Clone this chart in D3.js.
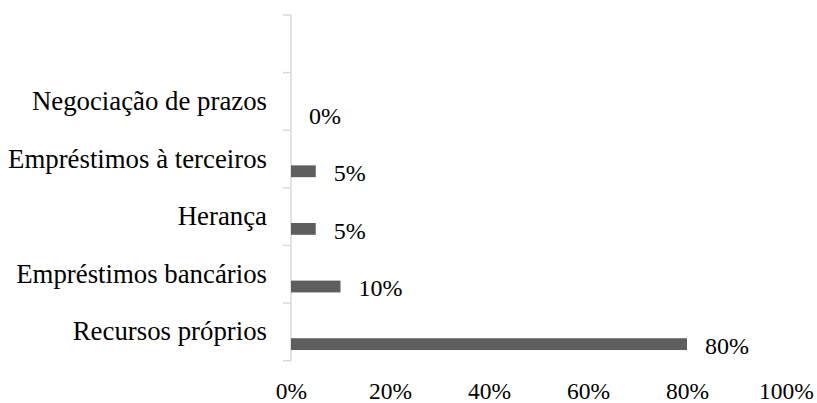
<!DOCTYPE html>
<html>
<head>
<meta charset="utf-8">
<script src="https://cdn.jsdelivr.net/npm/d3@7"></script>
<style>
  html, body { margin: 0; padding: 0; background: #ffffff; }
  svg { display: block; }
</style>
</head>
<body>
<svg id="chart" width="817" height="403"></svg>
<script>
// Data (top to bottom; first slot is an empty category)
const categories = ["", "Negociação de prazos", "Empréstimos à terceiros", "Herança", "Empréstimos bancários", "Recursos próprios"];
const values = [null, 0, 0.05, 0.05, 0.10, 0.80];
const xTicks = [0, 0.2, 0.4, 0.6, 0.8, 1.0];

const FONT = "'Liberation Serif', 'Times New Roman', serif";
const svg = d3.select("#chart");
const axisX = 291, xRight = 786, yTop = 15, yBottom = 360.7;

const x = d3.scaleLinear().domain([0, 1]).range([axisX, xRight]);
const y = d3.scaleBand().domain(categories.map((c, i) => i)).range([yTop, yBottom]).padding(0);
const step = y.step();
const fmt = d3.format(".0%");

// Y axis line and ticks
const yAxis = d3.axisLeft(y).tickSize(0).tickFormat(() => "");
const gAxis = svg.append("g").attr("transform", `translate(${axisX},0)`).call(yAxis);
gAxis.select(".domain").remove();
gAxis.append("line").attr("x1", 0).attr("x2", 0).attr("y1", yTop).attr("y2", yBottom)
  .attr("stroke", "#d9d9d9").attr("stroke-width", 1.5);
const boundaries = categories.map((c, i) => y(i)).concat([yBottom]);
gAxis.selectAll(".bt").data(boundaries).enter().append("line")
  .attr("x1", -8).attr("x2", 0).attr("y1", d => d).attr("y2", d => d)
  .attr("stroke", "#d9d9d9").attr("stroke-width", 1.5);

// Category labels
svg.selectAll(".cat").data(categories).enter().append("text")
  .attr("x", 267).attr("y", (d, i) => y(i) + step / 2)
  .attr("dy", "0.32em").attr("text-anchor", "end")
  .style("font-family", FONT).style("font-size", "26.8px").attr("fill", "#000")
  .text(d => d);

// Bars
const data = categories.map((c, i) => ({ i, v: values[i] })).filter(d => d.v !== null);
const barTop = d => y(d.i) + step * 0.61;
const barH = step * 0.205;
svg.selectAll(".bar").data(data).enter().append("rect")
  .attr("x", x(0)).attr("y", barTop)
  .attr("width", d => x(d.v) - x(0)).attr("height", barH)
  .attr("fill", "#5e5e5e");

// Value labels
svg.selectAll(".val").data(data).enter().append("text")
  .attr("x", d => x(d.v) + 18).attr("y", d => barTop(d) + barH / 2 + 1.5)
  .attr("dy", "0.35em")
  .style("font-family", FONT).style("font-size", "24px").attr("fill", "#000")
  .text(d => fmt(d.v));

// X tick labels
const xAxis = d3.axisBottom(x).tickValues(xTicks).tickSize(0).tickFormat(fmt);
const gx = svg.append("g").attr("transform", `translate(0,${yBottom})`).call(xAxis);
gx.attr("font-family", null).attr("font-size", null);
gx.select(".domain").remove();
gx.selectAll("text")
  .attr("y", 38).attr("dy", 0)
  .style("font-family", FONT)
  .style("font-size", "23.5px").attr("fill", "#000");
</script>
</body>
</html>
